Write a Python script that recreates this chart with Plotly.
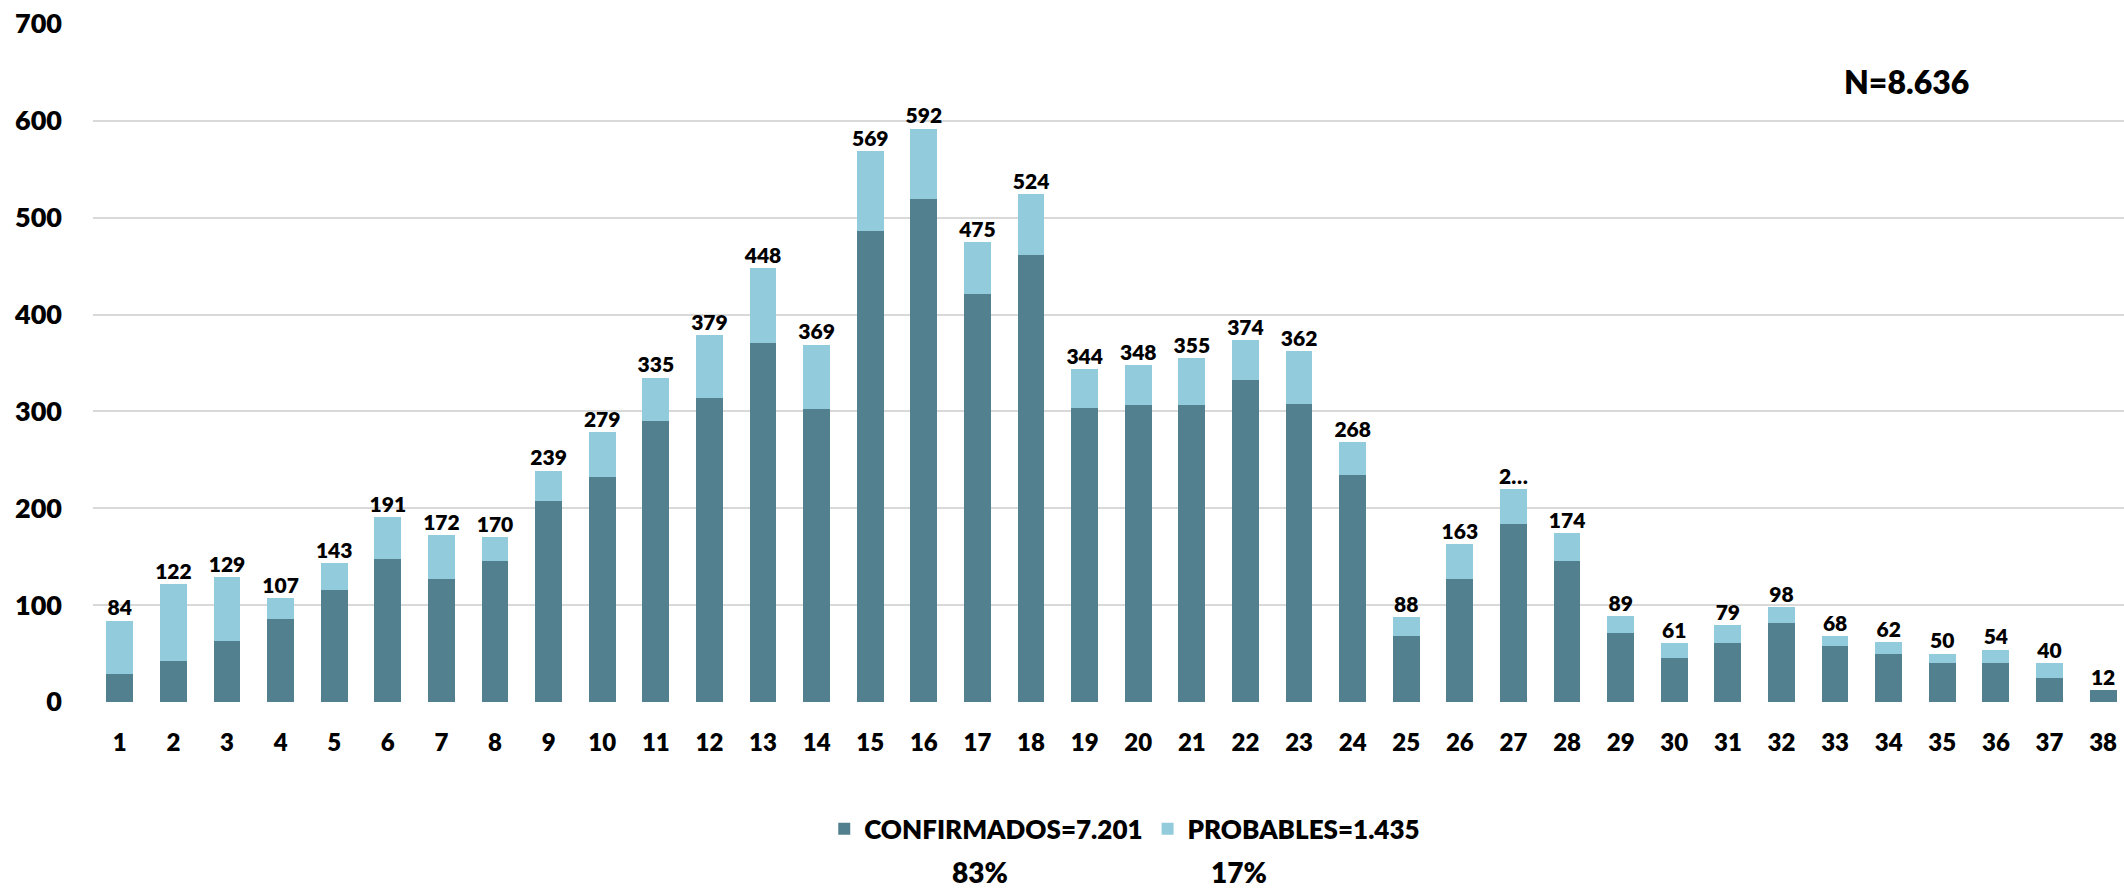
import plotly.graph_objects as go

# ---- data ----
weeks = list(range(1, 39))
totals = [84, 122, 129, 107, 143, 191, 172, 170, 239, 279, 335, 379, 448, 369,
          569, 592, 475, 524, 344, 348, 355, 374, 362, 268, 88, 163, 220, 174,
          89, 61, 79, 98, 68, 62, 50, 54, 40, 12]
confirmados = [29, 42, 63, 86, 116, 148, 127, 146, 208, 232, 290, 314, 371, 303,
               486, 519, 421, 462, 304, 307, 307, 332, 308, 234, 68, 127, 184, 146,
               71, 45, 61, 82, 58, 50, 40, 40, 25, 12]
probables = [55, 80, 66, 21, 27, 43, 45, 24, 31, 47, 45, 65, 77, 66,
             83, 73, 54, 62, 40, 41, 48, 42, 54, 34, 20, 36, 36, 28,
             18, 16, 18, 16, 10, 12, 10, 14, 15, 0]
labels = [str(t) for t in totals]
labels[26] = "2…"   # truncated label in the original
y_ticks = [0, 100, 200, 300, 400, 500, 600, 700]
legend_names = ["CONFIRMADOS=7.201", "PROBABLES=1.435"]
percents = ["83%", "17%"]
n_text = "N=8.636"

DARK = "#53808f"
LIGHT = "#92cbdc"
FONT = "Lato"
W = 800

fig = go.Figure()
fig.add_trace(go.Bar(x=weeks, y=confirmados, name=legend_names[0],
                     marker=dict(color=DARK, line=dict(width=0))))
fig.add_trace(go.Bar(x=weeks, y=probables, name=legend_names[1],
                     marker=dict(color=LIGHT, line=dict(width=0))))
fig.add_trace(go.Scatter(x=weeks, y=totals, mode="text", text=labels,
                         textposition="top center", showlegend=False,
                         textfont=dict(family=FONT, size=21, color="black", weight=W),
                         cliponaxis=False))

fig.update_layout(
    width=2124, height=891, autosize=False,
    margin=dict(l=93, r=0, t=24, b=189, pad=0),
    barmode="stack", bargap=0.5,
    paper_bgcolor="white", plot_bgcolor="white",
    font=dict(family=FONT, color="black"),
    legend=dict(orientation="h", x=0.508, xanchor="center", y=-0.187, yanchor="middle",
                font=dict(family=FONT, size=26, color="black", weight=W),
                itemwidth=30, traceorder="normal"),
    xaxis=dict(range=[0.5, 38.39], tickmode="array", tickvals=weeks,
               showgrid=False, zeroline=False, showline=False,
               tickfont=dict(family=FONT, size=24, color="black", weight=W),
               ticklabelstandoff=24),
    yaxis=dict(range=[0, 700], tickmode="array", tickvals=y_ticks,
               showgrid=True, gridcolor="#d9d9d9", gridwidth=1.5,
               zeroline=False, showline=False,
               tickfont=dict(family=FONT, size=27, color="black", weight=W),
               ticklabelstandoff=30),
)

fig.add_annotation(text=n_text, xref="paper", yref="paper", x=0.893, y=0.9145,
                   showarrow=False, xanchor="center", yanchor="middle",
                   font=dict(family=FONT, size=32, color="black", weight=W))
for txt, xp in zip(percents, [0.4367, 0.5643]):
    fig.add_annotation(text=txt, xref="paper", yref="paper", x=xp, y=-0.251,
                       showarrow=False, xanchor="center", yanchor="middle",
                       font=dict(family=FONT, size=28, color="black", weight=W))

fig.write_html("out.html", config={"displayModeBar": False},
               post_script="document.body.style.margin='0';document.body.style.padding='0';")
